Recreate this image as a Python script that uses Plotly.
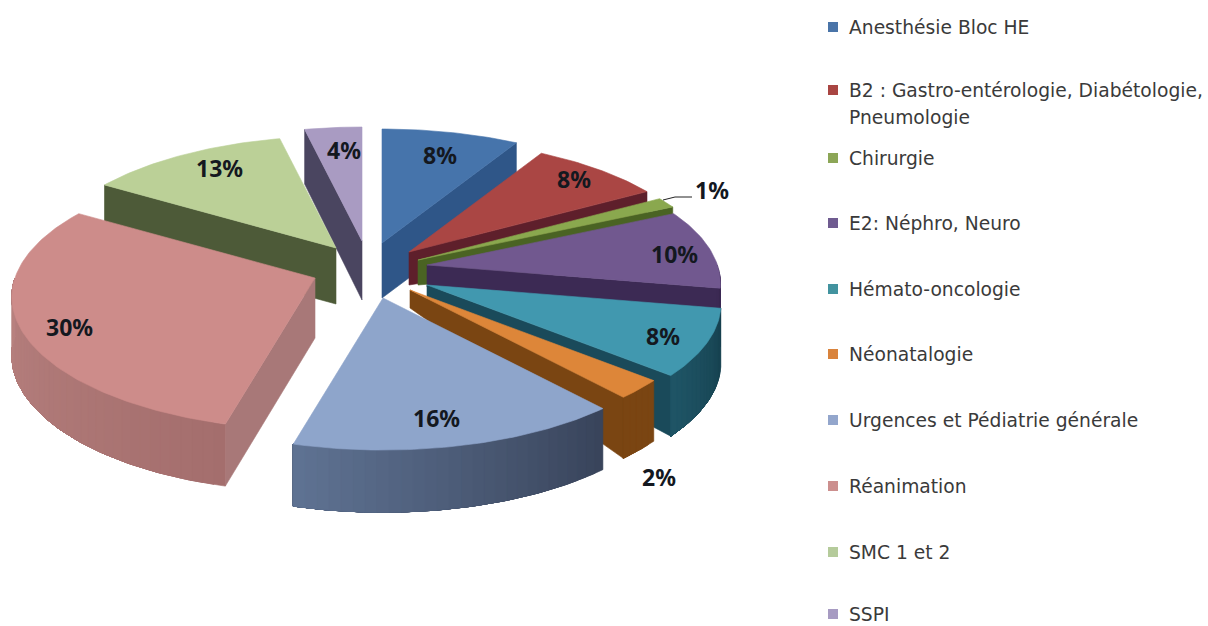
import numpy as np
import plotly.graph_objects as go

# --- data ---
categories = ["Anesthésie Bloc HE", "B2 : Gastro-entérologie, Diabétologie,\nPneumologie", "Chirurgie",
              "E2: Néphro, Neuro", "Hémato-oncologie", "Néonatalogie",
              "Urgences et Pédiatrie générale", "Réanimation", "SMC 1 et 2", "SSPI"]
values = [8.4, 8.2, 1.3, 10.0, 8.4, 2.4, 15.5, 29.8, 12.6, 3.5]
labels = ["8%", "8%", "1%", "10%", "8%", "2%", "16%", "30%", "13%", "4%"]

# --- styles ---
top_col = ["#4674ab", "#aa4644", "#8aa84e", "#71588f", "#4198af", "#dd8639", "#8ea5cb", "#cd8c8a", "#bbd097", "#a99bc2"]
face_col = ["#2f5688", "#5e1f2b", "#4a6323", "#3c2a54", "#1a4a5a", "#7a4512", "#4a5a78", "#a87878", "#4d5a38", "#4a4560"]
wall_a = ["#2f5688", "#5e1f2b", "#4a6323", "#3c2a54", "#1f5566", "#7a4512", "#5f7393", "#b88280", "#4d5a38", "#4a4560"]
wall_b = ["#2f5688", "#5e1f2b", "#4a6323", "#3c2a54", "#16404e", "#7a4512", "#38435a", "#a46e6d", "#4d5a38", "#4a4560"]
legend_col = ["#4a74a8", "#a94542", "#8ca657", "#6f5b90", "#42939f", "#d9833c", "#93a6cc", "#cc8f8e", "#b5cb9b", "#a79bc2"]

# --- layout of the exploded pie, in page pixels ---
RX, RY, P, DEPTH = 300.0, 130.3, 0.143, 58.0
apex_x = [382, 409, 418, 427, 427, 410, 383, 315, 336, 362]
apex_y = [243, 252, 260, 265, 285, 290, 298, 278, 248, 241]
apex_depth = [55, 33, 25, 22, 22, 18, 58, 60, 56, 59]
radius_scale = [1, 0.985, 1, 0.968, 0.97, 0.97, 1, 1, 0.98, 1]
paint_order = [0, 9, 8, 1, 2, 3, 4, 5, 7, 6]
label_x = [440, 574, 712, 674, 663, 659, 436, 69, 219, 344]
label_y = [155, 179, 190, 254, 336, 477, 418, 327, 168, 150]
legend_y = [27, 90, 158, 223, 289, 354, 420, 486, 552, 614]
LEGEND_LINE = 27


def hex2rgb(h):
    return np.array([int(h[i:i + 2], 16) for i in (1, 3, 5)], dtype=float)


def mix(a, b, t):
    c = hex2rgb(a) * (1 - t) + hex2rgb(b) * t
    return "rgb(%d,%d,%d)" % tuple(c.round())


def project(theta_deg, scale=1.0):
    t = np.radians(theta_deg)
    w = 1.0 / (1.0 + P * np.cos(t))
    return scale * RX * np.sin(t) * w, -scale * RY * np.cos(t) * w, DEPTH * w ** 0.45


fig = go.Figure()


def poly(xs, ys, color):
    fig.add_trace(go.Scatter(x=list(xs) + [xs[0]], y=list(ys) + [ys[0]], mode="lines", fill="toself",
                             fillcolor=color, line=dict(color=color, width=0.6),
                             hoverinfo="skip", showlegend=False))


bounds = np.cumsum([0] + values) / sum(values) * 360.0

for i in paint_order:
    a0, a1 = bounds[i], bounds[i + 1]
    ax, ay, ad, sc = apex_x[i], apex_y[i], apex_depth[i], radius_scale[i]
    # radial faces
    for ang, show_if in ((a0, -1), (a1, 1)):
        sx, sy, d = project(ang, sc)
        if sx * show_if > 0:
            poly([ax, ax + sx, ax + sx, ax], [ay, ay + sy, ay + sy + d, ay + ad], face_col[i])
    # outer rim wall, shaded along the arc: each step repaints everything still to come
    lo, hi = max(a0, 90.0), min(a1, 270.0)
    if hi > lo:
        n = max(2, int((hi - lo) / 2) + 1)
        edges = np.linspace(lo, hi, n + 1)
        for k in range(n):
            seg = np.linspace(edges[k], hi, max(4, int(hi - edges[k]) + 2))
            sx, sy, d = project(seg, sc)
            xs = np.r_[ax + sx, (ax + sx)[::-1]]
            ys = np.r_[ay + sy, (ay + sy + d)[::-1]]
            poly(xs.tolist(), ys.tolist(), mix(wall_a[i], wall_b[i], 1 - (k + 0.5) / n))
    # top
    arc = np.linspace(a0, a1, max(4, int(a1 - a0) + 2))
    sx, sy, _ = project(arc, sc)
    poly([ax] + (ax + sx).tolist(), [ay] + (ay + sy).tolist(), top_col[i])

# leader line of the 1% label
fig.add_trace(go.Scatter(x=[663, 675, 692], y=[200, 197, 197], mode="lines", line=dict(color="#222222", width=1),
                         hoverinfo="skip", showlegend=False))

annotations = []
for s, x, y in zip(labels, label_x, label_y):
    annotations.append(dict(x=x, y=y, text=s, showarrow=False, xanchor="center", yanchor="middle",
                            font=dict(family="Noto Sans", size=23, color="#14181f", weight="bold")))

# legend swatches and text
fig.add_trace(go.Scatter(x=[833] * len(categories), y=legend_y, mode="markers",
                         marker=dict(symbol="square", size=10, color=legend_col), hoverinfo="skip", showlegend=False))
for name, y in zip(categories, legend_y):
    for j, line in enumerate(name.split("\n")):
        annotations.append(dict(x=847, y=y + j * LEGEND_LINE, text=line, showarrow=False, xanchor="left",
                                yanchor="middle", font=dict(family="DejaVu Sans", size=18.7, color="#3a3a3a")))

fig.update_layout(
    width=1208, height=626, margin=dict(l=0, r=0, t=0, b=0),
    paper_bgcolor="white", plot_bgcolor="white", showlegend=False, annotations=annotations,
    xaxis=dict(range=[0, 1208], visible=False, fixedrange=True),
    yaxis=dict(range=[626, 0], visible=False, fixedrange=True),
)
fig.write_html("out.html", config={"displayModeBar": False},
               post_script="document.body.style.margin='0';document.documentElement.style.overflow='hidden';")
